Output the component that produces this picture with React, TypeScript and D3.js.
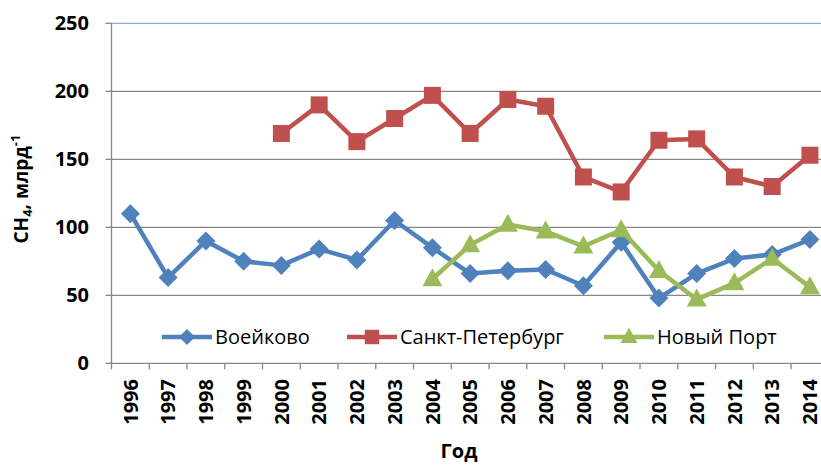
import React from "react";
import * as d3 from "d3";

const years = ["1996","1997","1998","1999","2000","2001","2002","2003","2004","2005","2006","2007","2008","2009","2010","2011","2012","2013","2014"];
const voeikovo: (number | null)[] = [110, 63, 90, 75, 72, 84, 76, 105, 85, 66, 68, 69, 57, 89, 48, 66, 77, 80, 91];
const spb: (number | null)[] = [null, null, null, null, 169, 190, 163, 180, 197, 169, 194, 189, 137, 126, 164, 165, 137, 130, 153];
const novyPort: (number | null)[] = [null, null, null, null, null, null, null, null, 62, 87, 102, 97, 86, 98, 68, 47, 59, 77, 56];
const yTicks = [0, 50, 100, 150, 200, 250];
const seriesNames = ["Воейково", "Санкт-Петербург", "Новый Порт"];
const colors = ["#4F81BD", "#C0504D", "#9BBB59"];

const W = 821, H = 466;
const left = 111.5, right = 828.8, top = 23.3, bottom = 363.3;

function Marker({ kind, x, y, color, s = 1 }: { kind: number; x: number; y: number; color: string; s?: number }) {
  if (kind === 0) {
    const r = 9.5 * s;
    return <path d={`M${x},${y - r}L${x + r},${y}L${x},${y + r}L${x - r},${y}Z`} fill={color} />;
  }
  if (kind === 1) {
    const w = 17 * s;
    return <rect x={x - w / 2} y={y - w / 2} width={w} height={w} fill={color} />;
  }
  const h = 18 * s, w = 20 * s;
  return <path d={`M${x},${y - h * 0.6}L${x + w / 2},${y + h * 0.4}L${x - w / 2},${y + h * 0.4}Z`} fill={color} />;
}

export default function App() {
  const x = d3.scaleBand<string>().domain(years).range([left, right]);
  const y = d3.scaleLinear().domain([0, 250]).range([bottom, top]);
  const cx = (yr: string) => (x(yr) as number) + x.bandwidth() / 2;
  const data = [voeikovo, spb, novyPort];
  const line = d3
    .line<{ yr: string; v: number | null }>()
    .defined((d) => d.v !== null)
    .x((d) => cx(d.yr))
    .y((d) => y(d.v as number));

  const font = "'Open Sans', 'Liberation Sans', sans-serif";
  const legendItems = [
    { lx: 162, tx: 215 },
    { lx: 347, tx: 400 },
    { lx: 604, tx: 657 },
  ];
  const legendY = 337;

  return (
    <svg width={W} height={H} style={{ position: "absolute", left: 0, top: 0, background: "#fff" }} fontFamily={font}>
      {yTicks.filter((t) => t > 0).map((t) => (
        <line key={t} x1={left} x2={W} y1={y(t)} y2={y(t)} stroke={t === 250 ? "#8EABD3" : "#888"} strokeWidth={1.3} />
      ))}
      <line x1={left} x2={left} y1={top} y2={bottom} stroke="#888" strokeWidth={1.3} />
      <line x1={left} x2={W} y1={bottom} y2={bottom} stroke="#888" strokeWidth={1.3} />
      {yTicks.map((t) => (
        <line key={"yt" + t} x1={left - 6} x2={left} y1={y(t)} y2={y(t)} stroke="#888" strokeWidth={1.3} />
      ))}
      {years.concat(["end"]).map((yr, i) => {
        const xx = left + i * x.bandwidth();
        return <line key={"xt" + i} x1={xx} x2={xx} y1={bottom} y2={bottom + 6} stroke="#888" strokeWidth={1.3} />;
      })}
      {yTicks.map((t) => (
        <text key={"yl" + t} x={89} y={y(t)} dy="0.35em" textAnchor="end" fontSize={20} fontWeight="bold" fill="#000">
          {t}
        </text>
      ))}
      {years.map((yr) => (
        <text
          key={"xl" + yr}
          transform={`translate(${cx(yr)},${379}) rotate(-90)`}
          textAnchor="end"
          dy="0.36em"
          fontSize={20}
          fontWeight="bold"
          fill="#000"
        >
          {yr}
        </text>
      ))}
      <text x={459} y={458} textAnchor="middle" fontSize={20} fontWeight="bold" fill="#000">Год</text>
      <text transform={`translate(27.5,${189}) rotate(-90)`} textAnchor="middle" fontSize={19} fontWeight="bold" fill="#000">
        CH<tspan fontSize={13} dy={4}>4</tspan><tspan dy={-4}>,  млрд</tspan><tspan fontSize={13} dy={-8}>-1</tspan>
      </text>
      {data.map((vals, si) => {
        const pts = years.map((yr, i) => ({ yr, v: vals[i] }));
        return (
          <g key={"s" + si}>
            <path d={line(pts) || ""} fill="none" stroke={colors[si]} strokeWidth={4.5} strokeLinejoin="round" />
            {pts.filter((p) => p.v !== null).map((p) => (
              <Marker key={p.yr} kind={si} x={cx(p.yr)} y={y(p.v as number)} color={colors[si]} />
            ))}
          </g>
        );
      })}
      {legendItems.map((it, i) => (
        <g key={"lg" + i}>
          <line x1={it.lx} x2={it.lx + 50} y1={legendY} y2={legendY} stroke={colors[i]} strokeWidth={4.5} />
          <Marker kind={i} x={it.lx + 25} y={legendY} color={colors[i]} s={0.85} />
          <text x={it.tx} y={legendY} dy="0.36em" fontSize={20} fill="#000">{seriesNames[i]}</text>
        </g>
      ))}
    </svg>
  );
}
